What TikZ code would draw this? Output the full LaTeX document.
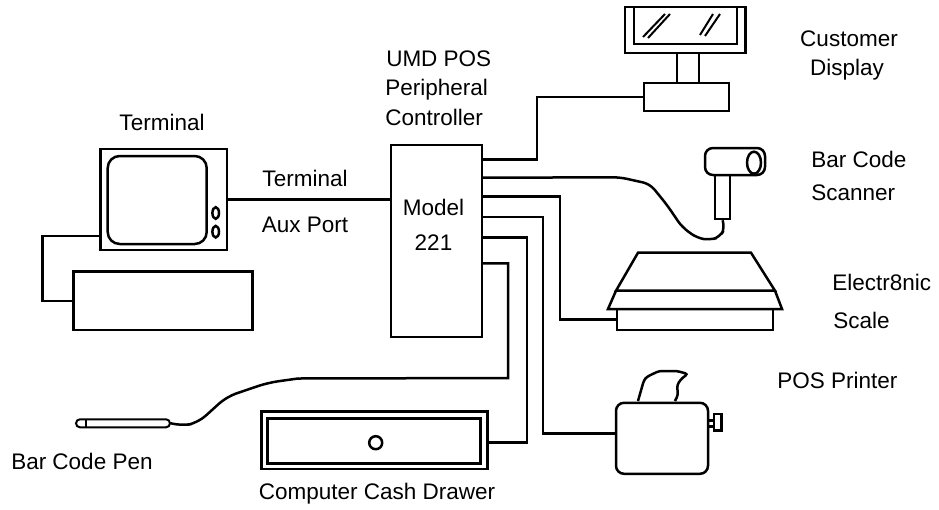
\documentclass[tikz,border=0pt]{standalone}
\usepackage{fontspec}
\setmainfont{Liberation Sans}
\begin{document}
\begin{tikzpicture}[x=1pt,y=-1pt,line width=2.5pt,
  lbl/.style={font=\fontsize{22.5}{26}\selectfont, inner sep=0pt},
  box/.style={draw, inner sep=0pt, line width=2.5pt},
  wire/.style={line width=2.5pt}]
\useasboundingbox (0,0) rectangle (939,509);

% ---------- Terminal ----------
\node[box, minimum width=126.3pt, minimum height=101pt] (term) at (163.85,199.5) {};
\draw[rounded corners=12pt] (107.7,156) rectangle (206.7,244);
\draw (215.7,213) ellipse [x radius=3.3, y radius=5.8];
\draw (215.7,231.7) ellipse [x radius=3.3, y radius=5.8];
\node[box, minimum width=179pt, minimum height=58.3pt] (kbd) at (162.8,300.85) {};
\coordinate (tw) at (100.7,236);
\coordinate (kj) at (42.7,300.85);
\draw[wire] (tw) -| (kj) -- (kbd.west);

% ---------- Controller ----------
\node[box, minimum width=91pt, minimum height=192pt] (ctrl) at (436.5,241) {};
\draw[wire] (term.east) -- (ctrl.west |- term.east);

\coordinate (c1) at (482,159.3);
\coordinate (c2) at (482,177.7);
\coordinate (c3) at (482,196.7);
\coordinate (c4) at (482,217);
\coordinate (c5) at (482,237.7);
\coordinate (c6) at (482,263.3);

% ---------- Customer display ----------
\draw (625,7) rectangle (745.7,53);
\draw (634,7) -- (634,44) -- (737,44) -- (737,7);
\draw[line width=2pt] (643,37) -- (665,14) (648,38) -- (670,14);
\draw[line width=2pt] (700,35) -- (713,14) (705,36) -- (720,14);
\draw (677,53) rectangle (699,83);
\node[box, minimum width=85pt, minimum height=28pt] (dispbase) at (686.5,97) {};
\coordinate (dj) at (537,97);
\draw[wire] (c1) -| (dj) -- (dispbase.west);

% ---------- Bar code scanner ----------
\draw[rounded corners=8pt] (705,148) rectangle (765,175);
\draw (754,162.7) ellipse [x radius=7, y radius=11];
\node[box, minimum width=15pt, minimum height=44pt] (handle) at (722.5,197) {};
\draw[wire, rounded corners=7pt] (c2) -- (620,177.3) -- (650,184) -- (667,205) -- (682,227)
  -- (697,238) -- (710,240) -- (720,237) -- (725,228) -- (handle.south);

% ---------- Electronic scale ----------
\draw (638,252.7) -- (751,252.7) -- (775,290.7) -- (616,290.7) -- cycle;
\draw (616,290.7) -- (608,309) -- (782,309) -- (775,290.7);
\node[box, minimum width=156pt, minimum height=21pt] (scalebase) at (695,319.5) {};
\coordinate (sj) at (560,319.5);
\draw[wire] (c3) -| (sj) -- (scalebase.west);

% ---------- POS printer ----------
\node[box, rounded corners=8pt, minimum width=92pt, minimum height=71pt] (printer) at (662,438.3) {};
\draw (708,420.7) rectangle (714,426.7);
\draw (714,414) rectangle (721.7,430.7);
\draw[rounded corners=3pt] (638,401) -- (644,380) -- (647,376.7) -- (659,371) -- (677,371)
  -- (688,374) -- (682,378) -- (677,385) -- (678,395) -- (675,401);
\coordinate (pj) at (543,433.3);
\draw[wire] (c4) -| (pj) -- (printer.west |- pj);

% ---------- Cash drawer ----------
\node[box, minimum width=226pt, minimum height=57.3pt] (drawer) at (374.7,440.3) {};
\draw (267.7,418.3) rectangle (480.7,463.3);
\draw (375.7,442.7) circle [radius=6.5];
\coordinate (cj) at (527,442.7);
\draw[wire] (c5) -| (cj) -- (drawer.east |- cj);

% ---------- Bar code pen ----------
\node[draw, line width=2pt, rounded corners=4pt, inner sep=0pt, minimum width=94pt, minimum height=8pt] (pen) at (123,423.3) {};
\draw[line width=2pt] (86,419.3) -- (86,427.3);
\coordinate (penj) at (508,378);
\coordinate (penk) at (298,378.5);
\draw[wire] (c6) -| (penj) -- (penk);
\draw[wire, line cap=round, rounded corners=10pt] (penk) -- (268,382.7) -- (226.7,396.7)
  -- (198,422.7) -- (181.7,426) -- (pen.east);

% ---------- Labels ----------
\node[lbl, anchor=base] (lterm) at (162,130) {Terminal};
\node[lbl, anchor=base] (lterm2) at (305,186) {Terminal};
\node[lbl, anchor=base] (laux) at (305,232) {Aux Port};
\node[lbl, anchor=base west] (lumd) at (385,66) {UMD POS};
\node[lbl, anchor=base west] (lper) at (384,95) {Peripheral};
\node[lbl, anchor=base west] (lcon) at (384,125) {Controller};
\node[lbl, anchor=base] (lmodel) at (433.5,215) {Model};
\node[lbl, anchor=base] (l221) at (433.5,250) {221};
\node[lbl, anchor=base] (lcust) at (849,46.7) {Customer};
\node[lbl, anchor=base] (ldisp) at (847,75) {Display};
\node[lbl, anchor=base west] (lbc) at (810,167) {Bar Code};
\node[lbl, anchor=base west] (lscan) at (810,200) {Scanner};
\node[lbl, anchor=base west] (lel) at (831,290) {Electr8nic};
\node[lbl, anchor=base west] (lsc) at (832,328) {Scale};
\node[lbl, anchor=base west] (lpos) at (776,388) {POS Printer};
\node[lbl, anchor=base west] (lpen) at (10,469) {Bar Code Pen};
\node[lbl, anchor=base] (ldraw) at (377,499) {Computer Cash Drawer};
\end{tikzpicture}
\end{document}
